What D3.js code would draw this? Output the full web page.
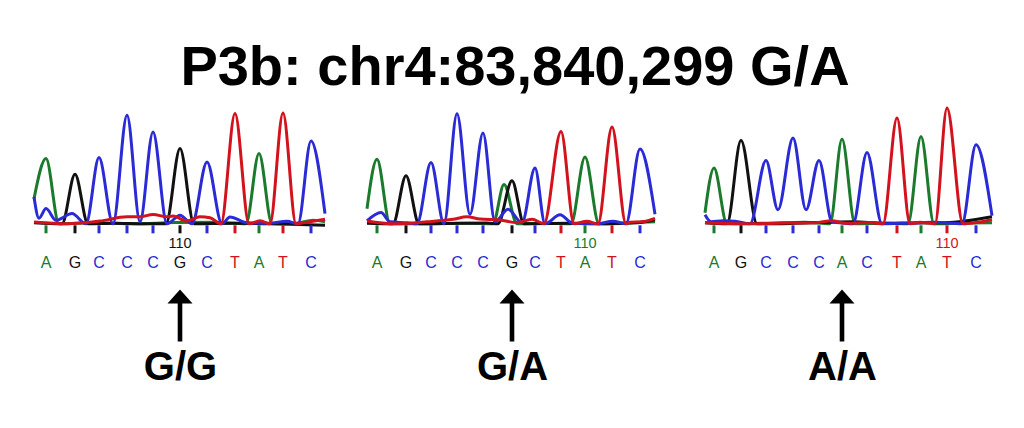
<!DOCTYPE html>
<html>
<head>
<meta charset="utf-8">
<script src="https://cdn.jsdelivr.net/npm/d3@7"></script>
<style>
  html, body { margin: 0; padding: 0; background: #fff; }
  svg { display: block; }
</style>
</head>
<body>
<svg id="chart" width="1024" height="428"></svg>
<script>
// ---------------- DATA ----------------
const title = "P3b: chr4:83,840,299 G/A";
const genotypes = ["G/G", "G/A", "A/A"];

// base calls per panel
const bases1 = ["A","G","C","C","C","G","C","T","A","T","C"];
const bases2 = ["A","G","C","C","C","G","C","T","A","T","C"];
const bases3 = ["A","G","C","C","C","A","C","T","A","T","C"];
// scan position of each base call
const calls1 = [12, 41, 65, 93, 119, 146, 173, 201, 225, 249, 277];
const calls2 = [10, 39, 64, 90, 116, 145, 168, 194, 218, 245, 273];
const calls3 = [9, 36, 61, 88, 114, 137, 162, 192, 216, 242, 271];
// base number of first call in each panel
const firstBase = [105, 102, 101];
const markedBase = 110;
const snpIndex = 5;

// trace points [scan, signal] — panel 1
const traceA1 = [[0,250],[12,652],[25,0],[60,10],[100,0],[140,12],[180,15],[212,0],[225,702],[238,0],[262,5],[279,35],[291,20]];
const traceC1 = [[0,268],[5,55],[12,152],[22,35],[38,102],[52,0],[65,662],[79,0],[93,1085],[106,20],[119,918],[133,0],[146,85],[158,0],[173,618],[188,0],[196,68],[213,10],[235,5],[253,25],[264,0],[277,828],[291,102]];
const traceG1 = [[0,10],[28,0],[41,495],[54,0],[80,5],[110,0],[132,0],[146,752],[160,0],[200,5],[240,0],[291,-15]];
const traceT1 = [[0,18],[33,0],[66,27],[93,70],[106,70],[119,93],[133,70],[139,77],[153,27],[166,70],[176,60],[187,0],[201,1102],[215,0],[226,30],[236,0],[249,1108],[262,0],[269,10],[279,25],[291,45]];
// panel 2
const traceA2 = [[0,150],[10,645],[23,0],[60,0],[100,5],[126,0],[137,393],[150,0],[180,5],[204,0],[218,667],[232,0],[260,10],[288,20]];
const traceC2 = [[0,30],[14,113],[23,20],[40,10],[50,0],[64,613],[77,0],[90,1100],[103,95],[116,907],[128,20],[141,145],[155,10],[168,557],[178,0],[193,90],[206,5],[230,0],[246,25],[259,0],[273,747],[288,95]];
const traceG2 = [[0,5],[26,0],[39,480],[52,0],[90,5],[120,8],[131,0],[145,430],[157,0],[200,5],[240,0],[270,10],[288,40]];
const traceT2 = [[0,28],[26,0],[60,20],[86,45],[100,70],[113,48],[133,38],[150,12],[165,45],[177,0],[194,923],[207,0],[220,25],[231,0],[245,967],[259,0],[263,15],[275,20],[288,55]];
// panel 3
const traceA3 = [[0,110],[9,557],[22,0],[60,5],[100,15],[125,0],[137,847],[150,0],[180,5],[203,0],[216,873],[229,0],[260,8],[287,10]];
const traceC3 = [[0,90],[6,20],[18,30],[30,25],[45,0],[61,633],[73,140],[88,857],[101,140],[114,633],[127,20],[140,5],[148,0],[162,713],[177,0],[205,8],[230,15],[257,0],[271,790],[287,80]];
const traceG3 = [[0,10],[22,0],[36,835],[52,0],[90,5],[148,20],[180,5],[240,10],[287,70]];
const traceT3 = [[0,10],[40,0],[80,8],[110,10],[127,30],[140,5],[165,12],[178,0],[192,1057],[205,0],[215,15],[230,0],[242,1157],[258,0],[270,10],[287,40]];

const channels = ["A", "G", "C", "T"];

// ---------------- LAYOUT / STYLE ----------------
const colors = { A: "#1b7a2c", C: "#2a2ad6", G: "#111111", T: "#d2121c" };
const font = "'Liberation Sans', Arial, Helvetica, sans-serif";
const panelLeft = [34, 367, 705];
const scanDomain = [0, 291];
const baselineY = 223.8;

const panels = [
  { bases: bases1, calls: calls1, traces: { A: traceA1, C: traceC1, G: traceG1, T: traceT1 } },
  { bases: bases2, calls: calls2, traces: { A: traceA2, C: traceC2, G: traceG2, T: traceT2 } },
  { bases: bases3, calls: calls3, traces: { A: traceA3, C: traceC3, G: traceG3, T: traceT3 } }
];

const svg = d3.select("#chart");
svg.append("rect").attr("width", 1024).attr("height", 428).attr("fill", "#fff");

svg.append("text")
  .attr("x", 515).attr("y", 85)
  .attr("text-anchor", "middle")
  .attr("font-family", font)
  .attr("font-weight", "bold")
  .attr("font-size", 56)
  .attr("fill", "#000")
  .text(title);

const y = d3.scaleLinear().domain([0, 1200]).range([baselineY, baselineY - 120]);

panels.forEach((p, i) => {
  const x = d3.scaleLinear().domain(scanDomain).range([panelLeft[i], panelLeft[i] + (scanDomain[1] - scanDomain[0])]);
  const g = svg.append("g");

  const line = d3.line()
    .x(d => x(d[0]))
    .y(d => y(d[1]))
    .curve(d3.curveMonotoneX);

  channels.forEach(ch => {
    g.append("path")
      .datum(p.traces[ch])
      .attr("d", line)
      .attr("fill", "none")
      .attr("stroke", colors[ch])
      .attr("stroke-width", 3)
      .attr("stroke-linejoin", "round");
  });

  // base call ticks
  g.selectAll(".tick")
    .data(p.calls)
    .join("line")
    .attr("x1", d => x(d)).attr("x2", d => x(d))
    .attr("y1", baselineY + 1.5).attr("y2", baselineY + 9.5)
    .attr("stroke", (d, k) => colors[p.bases[k]])
    .attr("stroke-width", 3);

  // base letters
  g.selectAll(".base")
    .data(p.bases)
    .join("text")
    .attr("x", (d, k) => x(p.calls[k]))
    .attr("y", 268)
    .attr("text-anchor", "middle")
    .attr("font-family", font)
    .attr("font-size", 16)
    .attr("fill", d => colors[d])
    .text(d => d);

  // base number label
  const mk = markedBase - firstBase[i];
  g.append("text")
    .attr("x", x(p.calls[mk]))
    .attr("y", 248)
    .attr("text-anchor", "middle")
    .attr("font-family", font)
    .attr("font-size", 14.5)
    .attr("fill", colors[p.bases[mk]])
    .text(markedBase);

  // arrow under SNP position
  const ax = x(p.calls[snpIndex]);
  g.append("rect")
    .attr("x", ax - 2.3).attr("y", 301)
    .attr("width", 4.6).attr("height", 40.5)
    .attr("fill", "#000");
  g.append("path")
    .attr("d", `M${ax},289.5 L${ax + 12.5},303.5 L${ax - 12.5},303.5 Z`)
    .attr("fill", "#000");

  // genotype label
  g.append("text")
    .attr("x", ax + 0.5)
    .attr("y", 380)
    .attr("text-anchor", "middle")
    .attr("font-family", font)
    .attr("font-weight", "bold")
    .attr("font-size", 40)
    .attr("fill", "#000")
    .text(genotypes[i]);
});
</script>
</body>
</html>
